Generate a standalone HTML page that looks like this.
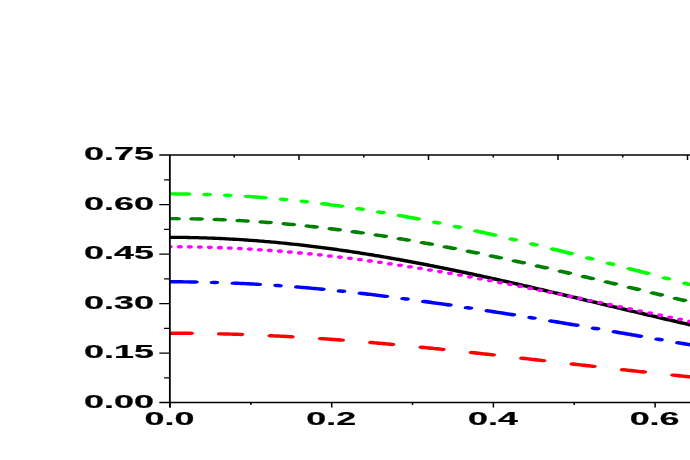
<!DOCTYPE html>
<html><head><meta charset="utf-8"><title>chart</title>
<style>html,body{margin:0;padding:0;background:#fff;}body{width:690px;height:460px;overflow:hidden;position:relative;font-family:"Liberation Sans",sans-serif;}</style>
</head><body>
<svg width="690" height="460" viewBox="0 0 690 460" style="position:absolute;left:0;top:0">
<rect width="690" height="460" fill="#fff"/>
<defs><clipPath id="cp"><rect x="170" y="150" width="530" height="260"/></clipPath><filter id="bl" x="0" y="0" width="690" height="460" filterUnits="userSpaceOnUse"><feGaussianBlur stdDeviation="0.3"/></filter></defs>
<g filter="url(#bl)">
<g fill="none" stroke-linecap="round" stroke-linejoin="round" clip-path="url(#cp)"><g transform="translate(170 0) scale(2 1)">
<path d="M-1.50 333.23 L-0.52 333.22 L0.46 333.22 L1.44 333.23 L2.42 333.23 L3.40 333.24 L4.38 333.24 L5.35 333.25 L6.33 333.26 L7.31 333.28 L8.29 333.29 L9.27 333.31 L10.25 333.33 M25.22 333.85 L26.15 333.89 L27.08 333.94 L28.01 333.99 L28.93 334.04 L29.86 334.10 L30.79 334.15 L31.72 334.21 L32.64 334.26 L33.57 334.32 L34.50 334.38 L35.43 334.45 M50.40 335.68 L51.33 335.77 L52.25 335.86 L53.18 335.95 L54.11 336.05 L55.04 336.14 L55.96 336.24 L56.89 336.34 L57.82 336.44 L58.75 336.54 L59.67 336.64 L60.60 336.75 M75.58 338.63 L76.50 338.76 L77.43 338.89 L78.36 339.02 L79.28 339.15 L80.21 339.29 L81.14 339.42 L82.07 339.56 L82.99 339.70 L83.92 339.83 L84.85 339.97 L85.78 340.12 M100.75 342.56 L101.68 342.72 L102.60 342.88 L103.53 343.05 L104.46 343.21 L105.39 343.38 L106.31 343.54 L107.24 343.71 L108.17 343.88 L109.10 344.05 L110.02 344.22 L110.95 344.39 M125.93 347.28 L126.85 347.47 L127.78 347.66 L128.71 347.85 L129.63 348.04 L130.56 348.22 L131.49 348.41 L132.42 348.61 L133.34 348.80 L134.27 348.99 L135.20 349.18 L136.13 349.38 M151.10 352.59 L152.03 352.79 L152.95 353.00 L153.88 353.20 L154.81 353.41 L155.74 353.61 L156.66 353.82 L157.59 354.02 L158.52 354.23 L159.45 354.44 L160.37 354.64 L161.30 354.85 M176.28 358.25 L177.20 358.46 L178.13 358.67 L179.06 358.88 L179.98 359.09 L180.91 359.31 L181.84 359.52 L182.77 359.73 L183.69 359.95 L184.62 360.16 L185.55 360.37 L186.48 360.59 M201.45 364.03 L202.38 364.24 L203.30 364.46 L204.23 364.67 L205.16 364.88 L206.09 365.09 L207.01 365.30 L207.94 365.52 L208.87 365.73 L209.80 365.94 L210.72 366.15 L211.65 366.36 M226.63 369.73 L227.55 369.94 L228.48 370.14 L229.41 370.35 L230.33 370.55 L231.26 370.76 L232.19 370.96 L233.12 371.17 L234.04 371.37 L234.97 371.57 L235.90 371.77 L236.83 371.98 M251.80 375.17 L252.73 375.36 L253.65 375.56 L254.58 375.75 L255.51 375.94 L256.44 376.13 L257.36 376.32 L258.29 376.51 L259.22 376.70 L260.15 376.89 L261.07 377.08 L262.00 377.26" stroke="#ff0000" stroke-width="3.45"/>
<path d="M-1.50 281.80 L-0.56 281.79 L0.38 281.79 L1.33 281.80 L2.27 281.80 L3.21 281.81 L4.15 281.82 L5.09 281.83 L6.03 281.84 L6.97 281.86 L7.92 281.88 L8.86 281.90 L9.80 281.92 L10.74 281.94 L11.68 281.97 L12.62 282.00 M21.57 282.40 L22.25 282.44 L22.92 282.48 M31.97 283.12 L32.93 283.20 L33.88 283.28 L34.84 283.37 L35.79 283.45 L36.74 283.54 L37.70 283.63 L38.65 283.73 L39.61 283.82 L40.56 283.92 L41.51 284.02 L42.47 284.13 L43.42 284.23 L44.38 284.34 M53.32 285.46 L54.00 285.56 L54.68 285.65 M63.72 287.02 L64.68 287.17 L65.63 287.33 L66.59 287.49 L67.54 287.65 L68.49 287.82 L69.45 287.99 L70.40 288.15 L71.36 288.33 L72.31 288.50 L73.26 288.67 L74.22 288.85 L75.17 289.03 L76.12 289.21 M85.07 291.01 L85.75 291.15 L86.43 291.30 M95.47 293.31 L96.43 293.53 L97.38 293.76 L98.34 293.98 L99.29 294.21 L100.24 294.44 L101.20 294.67 L102.15 294.90 L103.11 295.13 L104.06 295.36 L105.01 295.60 L105.97 295.84 L106.92 296.08 L107.88 296.32 M116.82 298.64 L117.50 298.82 L118.18 299.00 M127.22 301.48 L128.18 301.74 L129.13 302.01 L130.09 302.28 L131.04 302.55 L131.99 302.82 L132.95 303.09 L133.90 303.36 L134.86 303.64 L135.81 303.91 L136.76 304.19 L137.72 304.46 L138.67 304.74 L139.62 305.02 M148.57 307.67 L149.25 307.87 L149.93 308.08 M158.97 310.84 L159.93 311.14 L160.88 311.43 L161.84 311.73 L162.79 312.03 L163.74 312.33 L164.70 312.62 L165.65 312.92 L166.61 313.22 L167.56 313.53 L168.51 313.83 L169.47 314.13 L170.42 314.43 L171.38 314.74 M180.33 317.62 L181.00 317.84 L181.68 318.06 M190.73 321.05 L191.68 321.36 L192.63 321.68 L193.59 322.00 L194.54 322.32 L195.49 322.64 L196.45 322.96 L197.40 323.28 L198.36 323.60 L199.31 323.92 L200.26 324.25 L201.22 324.57 L202.17 324.89 L203.12 325.21 M212.08 328.27 L212.75 328.50 L213.43 328.73 M222.48 331.85 L223.43 332.18 L224.38 332.51 L225.34 332.84 L226.29 333.17 L227.24 333.49 L228.20 333.82 L229.15 334.15 L230.11 334.48 L231.06 334.81 L232.01 335.14 L232.97 335.47 L233.92 335.80 L234.88 336.13 M243.83 339.22 L244.50 339.45 L245.18 339.69 M254.23 342.79 L255.18 343.11 L256.13 343.44 L257.09 343.76 L258.04 344.09 L258.99 344.41 L259.95 344.73 L260.90 345.06 L261.86 345.38 L262.81 345.70 L263.76 346.02 L264.72 346.34 L265.67 346.66 L266.62 346.98" stroke="#0000ff" stroke-width="3.45"/>
<path d="M-2.00 237.34 L-1.00 237.33 L0.00 237.33 L1.00 237.34 L2.00 237.35 L3.00 237.36 L4.00 237.37 L5.00 237.39 L6.00 237.41 L7.00 237.44 L8.00 237.47 L9.00 237.50 L10.00 237.54 L11.00 237.58 L12.00 237.62 L13.00 237.67 L14.00 237.72 L15.00 237.78 L16.00 237.83 L17.00 237.89 L18.00 237.96 L19.00 238.03 L20.00 238.10 L21.00 238.18 L22.00 238.26 L23.00 238.34 L24.00 238.42 L25.00 238.51 L26.00 238.61 L27.00 238.70 L28.00 238.80 L29.00 238.91 L30.00 239.02 L31.00 239.13 L32.00 239.24 L33.00 239.36 L34.00 239.48 L35.00 239.60 L36.00 239.73 L37.00 239.86 L38.00 240.00 L39.00 240.14 L40.00 240.28 L41.00 240.42 L42.00 240.57 L43.00 240.73 L44.00 240.88 L45.00 241.04 L46.00 241.20 L47.00 241.37 L48.00 241.54 L49.00 241.71 L50.00 241.88 L51.00 242.06 L52.00 242.24 L53.00 242.43 L54.00 242.62 L55.00 242.81 L56.00 243.00 L57.00 243.20 L58.00 243.40 L59.00 243.61 L60.00 243.82 L61.00 244.03 L62.00 244.24 L63.00 244.46 L64.00 244.68 L65.00 244.91 L66.00 245.13 L67.00 245.36 L68.00 245.60 L69.00 245.83 L70.00 246.07 L71.00 246.31 L72.00 246.56 L73.00 246.81 L74.00 247.06 L75.00 247.31 L76.00 247.57 L77.00 247.83 L78.00 248.09 L79.00 248.36 L80.00 248.63 L81.00 248.90 L82.00 249.18 L83.00 249.46 L84.00 249.74 L85.00 250.02 L86.00 250.31 L87.00 250.60 L88.00 250.89 L89.00 251.18 L90.00 251.48 L91.00 251.78 L92.00 252.08 L93.00 252.39 L94.00 252.70 L95.00 253.01 L96.00 253.32 L97.00 253.64 L98.00 253.96 L99.00 254.28 L100.00 254.60 L101.00 254.93 L102.00 255.26 L103.00 255.59 L104.00 255.92 L105.00 256.26 L106.00 256.60 L107.00 256.94 L108.00 257.29 L109.00 257.63 L110.00 257.98 L111.00 258.33 L112.00 258.69 L113.00 259.04 L114.00 259.40 L115.00 259.76 L116.00 260.12 L117.00 260.49 L118.00 260.85 L119.00 261.22 L120.00 261.60 L121.00 261.97 L122.00 262.34 L123.00 262.72 L124.00 263.10 L125.00 263.48 L126.00 263.87 L127.00 264.26 L128.00 264.64 L129.00 265.03 L130.00 265.43 L131.00 265.82 L132.00 266.22 L133.00 266.61 L134.00 267.01 L135.00 267.41 L136.00 267.82 L137.00 268.22 L138.00 268.63 L139.00 269.04 L140.00 269.45 L141.00 269.86 L142.00 270.27 L143.00 270.69 L144.00 271.11 L145.00 271.53 L146.00 271.95 L147.00 272.37 L148.00 272.79 L149.00 273.22 L150.00 273.64 L151.00 274.07 L152.00 274.50 L153.00 274.93 L154.00 275.37 L155.00 275.80 L156.00 276.23 L157.00 276.67 L158.00 277.11 L159.00 277.55 L160.00 277.99 L161.00 278.43 L162.00 278.87 L163.00 279.32 L164.00 279.76 L165.00 280.21 L166.00 280.66 L167.00 281.11 L168.00 281.56 L169.00 282.01 L170.00 282.46 L171.00 282.91 L172.00 283.37 L173.00 283.82 L174.00 284.28 L175.00 284.74 L176.00 285.20 L177.00 285.65 L178.00 286.11 L179.00 286.57 L180.00 287.04 L181.00 287.50 L182.00 287.96 L183.00 288.43 L184.00 288.89 L185.00 289.36 L186.00 289.82 L187.00 290.29 L188.00 290.76 L189.00 291.22 L190.00 291.69 L191.00 292.16 L192.00 292.63 L193.00 293.10 L194.00 293.57 L195.00 294.04 L196.00 294.51 L197.00 294.99 L198.00 295.46 L199.00 295.93 L200.00 296.41 L201.00 296.88 L202.00 297.35 L203.00 297.83 L204.00 298.30 L205.00 298.78 L206.00 299.25 L207.00 299.73 L208.00 300.20 L209.00 300.68 L210.00 301.16 L211.00 301.63 L212.00 302.11 L213.00 302.59 L214.00 303.06 L215.00 303.54 L216.00 304.01 L217.00 304.49 L218.00 304.97 L219.00 305.44 L220.00 305.92 L221.00 306.40 L222.00 306.87 L223.00 307.35 L224.00 307.83 L225.00 308.30 L226.00 308.78 L227.00 309.25 L228.00 309.73 L229.00 310.20 L230.00 310.68 L231.00 311.15 L232.00 311.63 L233.00 312.10 L234.00 312.58 L235.00 313.05 L236.00 313.52 L237.00 314.00 L238.00 314.47 L239.00 314.94 L240.00 315.41 L241.00 315.88 L242.00 316.35 L243.00 316.82 L244.00 317.29 L245.00 317.76 L246.00 318.23 L247.00 318.70 L248.00 319.17 L249.00 319.63 L250.00 320.10 L251.00 320.56 L252.00 321.03 L253.00 321.49 L254.00 321.96 L255.00 322.42 L256.00 322.88 L257.00 323.34 L258.00 323.80 L259.00 324.26 L260.00 324.72 L261.00 325.18 L262.00 325.64" stroke="#000000" stroke-width="3.30"/>
<g fill="#ff00ff" stroke="none"><ellipse cx="-0.10" cy="246.70" rx="1.5" ry="1.8"/><ellipse cx="4.90" cy="246.75" rx="1.5" ry="1.8"/><ellipse cx="9.90" cy="246.86" rx="1.5" ry="1.8"/><ellipse cx="14.91" cy="247.05" rx="1.5" ry="1.8"/><ellipse cx="19.91" cy="247.31" rx="1.5" ry="1.8"/><ellipse cx="24.91" cy="247.65" rx="1.5" ry="1.8"/><ellipse cx="29.91" cy="248.06" rx="1.5" ry="1.8"/><ellipse cx="34.92" cy="248.54" rx="1.5" ry="1.8"/><ellipse cx="39.92" cy="249.09" rx="1.5" ry="1.8"/><ellipse cx="44.92" cy="249.71" rx="1.5" ry="1.8"/><ellipse cx="49.92" cy="250.40" rx="1.5" ry="1.8"/><ellipse cx="54.93" cy="251.16" rx="1.5" ry="1.8"/><ellipse cx="59.93" cy="251.99" rx="1.5" ry="1.8"/><ellipse cx="64.93" cy="252.88" rx="1.5" ry="1.8"/><ellipse cx="69.93" cy="253.84" rx="1.5" ry="1.8"/><ellipse cx="74.94" cy="254.86" rx="1.5" ry="1.8"/><ellipse cx="79.94" cy="255.95" rx="1.5" ry="1.8"/><ellipse cx="84.94" cy="257.10" rx="1.5" ry="1.8"/><ellipse cx="89.94" cy="258.31" rx="1.5" ry="1.8"/><ellipse cx="94.94" cy="259.57" rx="1.5" ry="1.8"/><ellipse cx="99.95" cy="260.90" rx="1.5" ry="1.8"/><ellipse cx="104.95" cy="262.27" rx="1.5" ry="1.8"/><ellipse cx="109.95" cy="263.71" rx="1.5" ry="1.8"/><ellipse cx="114.96" cy="265.19" rx="1.5" ry="1.8"/><ellipse cx="119.96" cy="266.72" rx="1.5" ry="1.8"/><ellipse cx="124.96" cy="268.30" rx="1.5" ry="1.8"/><ellipse cx="129.96" cy="269.93" rx="1.5" ry="1.8"/><ellipse cx="134.97" cy="271.60" rx="1.5" ry="1.8"/><ellipse cx="139.97" cy="273.31" rx="1.5" ry="1.8"/><ellipse cx="144.97" cy="275.07" rx="1.5" ry="1.8"/><ellipse cx="149.97" cy="276.86" rx="1.5" ry="1.8"/><ellipse cx="154.98" cy="278.68" rx="1.5" ry="1.8"/><ellipse cx="159.98" cy="280.54" rx="1.5" ry="1.8"/><ellipse cx="164.98" cy="282.43" rx="1.5" ry="1.8"/><ellipse cx="169.98" cy="284.35" rx="1.5" ry="1.8"/><ellipse cx="174.99" cy="286.30" rx="1.5" ry="1.8"/><ellipse cx="179.99" cy="288.27" rx="1.5" ry="1.8"/><ellipse cx="184.99" cy="290.26" rx="1.5" ry="1.8"/><ellipse cx="189.99" cy="292.27" rx="1.5" ry="1.8"/><ellipse cx="195.00" cy="294.31" rx="1.5" ry="1.8"/><ellipse cx="200.00" cy="296.35" rx="1.5" ry="1.8"/><ellipse cx="205.00" cy="298.41" rx="1.5" ry="1.8"/><ellipse cx="210.00" cy="300.49" rx="1.5" ry="1.8"/><ellipse cx="215.00" cy="302.57" rx="1.5" ry="1.8"/><ellipse cx="220.01" cy="304.66" rx="1.5" ry="1.8"/><ellipse cx="225.01" cy="306.75" rx="1.5" ry="1.8"/><ellipse cx="230.01" cy="308.85" rx="1.5" ry="1.8"/><ellipse cx="235.01" cy="310.95" rx="1.5" ry="1.8"/><ellipse cx="240.02" cy="313.05" rx="1.5" ry="1.8"/><ellipse cx="245.02" cy="315.14" rx="1.5" ry="1.8"/><ellipse cx="250.02" cy="317.24" rx="1.5" ry="1.8"/><ellipse cx="255.03" cy="319.32" rx="1.5" ry="1.8"/><ellipse cx="260.03" cy="321.40" rx="1.5" ry="1.8"/><ellipse cx="265.03" cy="323.46" rx="1.5" ry="1.8"/></g>
<path d="M-1.50 218.64 L-0.63 218.64 L0.25 218.64 L1.12 218.64 L1.99 218.64 L2.87 218.65 L3.74 218.66 M11.40 218.85 L12.36 218.88 L13.32 218.92 L14.29 218.96 L15.25 219.01 M22.91 219.48 L23.87 219.55 L24.83 219.62 L25.79 219.70 L26.76 219.78 M34.41 220.53 L35.38 220.63 L36.34 220.74 L37.30 220.86 L38.26 220.97 M45.92 221.99 L46.88 222.13 L47.85 222.28 L48.81 222.42 L49.77 222.57 M57.43 223.86 L58.39 224.03 L59.35 224.21 L60.32 224.39 L61.28 224.57 M68.94 226.11 L69.90 226.32 L70.86 226.53 L71.82 226.74 L72.79 226.96 M80.44 228.75 L81.41 228.99 L82.37 229.23 L83.33 229.47 L84.29 229.71 M91.95 231.74 L92.91 232.01 L93.88 232.28 L94.84 232.55 L95.80 232.82 M103.46 235.08 L104.42 235.38 L105.38 235.67 L106.35 235.97 L107.31 236.27 M114.97 238.74 L115.93 239.06 L116.89 239.38 L117.85 239.71 L118.82 240.03 M126.47 242.70 L127.44 243.04 L128.40 243.39 L129.36 243.73 L130.32 244.08 M137.98 246.93 L138.94 247.30 L139.91 247.66 L140.87 248.03 L141.83 248.40 M149.49 251.41 L150.45 251.80 L151.41 252.18 L152.38 252.57 L153.34 252.96 M161.00 256.12 L161.96 256.52 L162.92 256.93 L163.88 257.33 L164.85 257.74 M172.50 261.02 L173.47 261.44 L174.43 261.86 L175.39 262.28 L176.35 262.70 M184.01 266.09 L184.97 266.52 L185.94 266.96 L186.90 267.39 L187.86 267.82 M195.52 271.31 L196.48 271.75 L197.44 272.19 L198.41 272.63 L199.37 273.08 M207.03 276.63 L207.99 277.08 L208.95 277.53 L209.91 277.98 L210.88 278.44 M218.53 282.05 L219.50 282.50 L220.46 282.96 L221.42 283.41 L222.38 283.87 M230.04 287.52 L231.00 287.97 L231.97 288.43 L232.93 288.89 L233.89 289.35 M241.55 293.02 L242.51 293.48 L243.47 293.94 L244.44 294.40 L245.40 294.86 M253.06 298.52 L254.02 298.98 L254.98 299.44 L255.94 299.90 L256.91 300.36 M264.56 304.00 L265.53 304.46 L266.49 304.92 L267.45 305.37 L268.41 305.83" stroke="#008000" stroke-width="3.45"/>
<path d="M-1.50 193.90 L-0.55 193.90 L0.40 193.89 L1.35 193.89 L2.30 193.90 L3.25 193.91 L4.20 193.92 L5.15 193.93 L6.10 193.95 L7.05 193.97 L8.00 193.99 L8.95 194.02 M17.82 194.41 L18.55 194.46 L19.28 194.50 M28.15 195.22 L28.88 195.29 L29.60 195.36 M38.47 196.39 L39.45 196.52 L40.42 196.65 L41.39 196.78 L42.36 196.92 L43.34 197.06 L44.31 197.21 L45.28 197.36 L46.25 197.51 L47.22 197.66 M56.10 199.21 L56.82 199.35 L57.55 199.49 M66.42 201.34 L67.15 201.50 L67.88 201.66 M76.75 203.79 L77.72 204.04 L78.69 204.29 L79.67 204.55 L80.64 204.80 L81.61 205.06 L82.58 205.33 L83.56 205.59 L84.53 205.86 L85.50 206.13 M94.37 208.73 L95.10 208.95 L95.82 209.17 M104.70 212.02 L105.42 212.27 L106.15 212.51 M115.02 215.60 L116.00 215.95 L116.97 216.31 L117.94 216.66 L118.91 217.02 L119.89 217.38 L120.86 217.74 L121.83 218.11 L122.80 218.47 L123.77 218.84 M132.65 222.31 L133.37 222.60 L134.10 222.90 M142.97 226.56 L143.70 226.87 L144.42 227.18 M153.30 231.03 L154.27 231.46 L155.24 231.89 L156.22 232.33 L157.19 232.76 L158.16 233.20 L159.13 233.64 L160.11 234.08 L161.08 234.52 L162.05 234.96 M170.92 239.08 L171.65 239.42 L172.37 239.77 M181.25 244.02 L181.97 244.37 L182.70 244.72 M191.57 249.09 L192.55 249.57 L193.52 250.06 L194.49 250.54 L195.46 251.03 L196.44 251.52 L197.41 252.01 L198.38 252.50 L199.35 252.99 L200.32 253.48 M209.20 258.00 L209.92 258.37 L210.65 258.74 M219.52 263.32 L220.25 263.70 L220.97 264.08 M229.85 268.71 L230.82 269.22 L231.79 269.72 L232.77 270.23 L233.74 270.74 L234.71 271.25 L235.68 271.76 L236.66 272.27 L237.63 272.79 L238.60 273.30 M247.47 277.96 L248.20 278.35 L248.92 278.73 M257.80 283.39 L258.52 283.77 L259.25 284.16" stroke="#00ff00" stroke-width="3.45"/>
</g></g>
<g stroke="#000" fill="none">
<path d="M159.3 155 H690" stroke-width="1.3"/>
<path d="M159.3 402.5 H690" stroke-width="1.3"/>
<path d="M169.85 155 V407.5" stroke-width="1.8"/>
<path d="M164.1 179.75 H170 M159.3 204.50 H170 M164.1 229.25 H170 M159.3 254.00 H170 M164.1 278.75 H170 M159.3 303.50 H170 M164.1 328.25 H170 M159.3 353.00 H170 M164.1 377.75 H170" stroke-width="1.25"/>
<path d="M170.00 402.5 V407.5 M250.85 402.5 V405 M331.70 402.5 V407.5 M412.55 402.5 V405 M493.40 402.5 V407.5 M574.25 402.5 V405 M655.10 402.5 V407.5" stroke-width="1.5"/>
<path d="M234.25 155 V157.5 M299.00 155 V160 M363.75 155 V157.5 M428.50 155 V160 M493.25 155 V157.5 M558.00 155 V160 M622.75 155 V157.5 M687.50 155 V160" stroke-width="1.5"/>
</g>
<g font-family="Liberation Sans, sans-serif" font-weight="bold" font-size="19" fill="#000" stroke="#000" stroke-width="0.2" stroke-linejoin="round">
<text transform="translate(154.0 160.00) scale(1.89 1)" text-anchor="end">0.75</text>
<text transform="translate(154.0 209.50) scale(1.89 1)" text-anchor="end">0.60</text>
<text transform="translate(154.0 259.00) scale(1.89 1)" text-anchor="end">0.45</text>
<text transform="translate(154.0 308.50) scale(1.89 1)" text-anchor="end">0.30</text>
<text transform="translate(154.0 358.00) scale(1.89 1)" text-anchor="end">0.15</text>
<text transform="translate(154.0 407.50) scale(1.89 1)" text-anchor="end">0.00</text>
<text transform="translate(169.50 425) scale(1.89 1)" text-anchor="middle">0.0</text>
<text transform="translate(331.20 425) scale(1.89 1)" text-anchor="middle">0.2</text>
<text transform="translate(492.90 425) scale(1.89 1)" text-anchor="middle">0.4</text>
<text transform="translate(654.60 425) scale(1.89 1)" text-anchor="middle">0.6</text>
</g>
</g>
</svg>
</body></html>
